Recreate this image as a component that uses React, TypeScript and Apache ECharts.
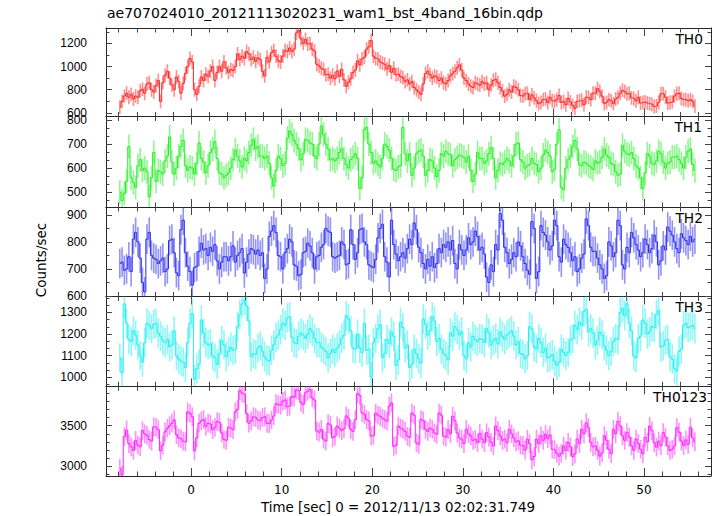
import React, { useEffect, useRef } from "react";
import * as echarts from "echarts";

// Time bins: 0.25 s wide, first bin starts at -8 s
const T_START = -8;
const BIN = 0.25;

const panelNames = ["TH0", "TH1", "TH2", "TH3", "TH0123"];

const th0 = [
  650, 700, 745, 770, 735, 760, 720, 745, 735, 790, 805, 770, 850, 860, 800, 780,
  835, 880, 700, 860, 925, 960, 900, 840, 800, 910, 870, 770, 855, 940, 1000, 1070,
  1040, 800, 760, 830, 910, 880, 935, 915, 960, 1000, 880, 950, 1000, 960, 1040, 990,
  950, 975, 965, 1000, 1110, 1060, 1090, 1070, 1130, 1110, 1060, 1080, 1045, 1075, 1060, 960,
  920, 1080, 1040, 1120, 1140, 1090, 1050, 1040, 1090, 1140, 1130, 1160, 1130, 1150, 1290, 1310,
  1240, 1200, 1235, 1195, 1200, 1150, 1135, 1020, 1005, 985, 975, 930, 935, 900, 925, 895,
  960, 915, 975, 885, 830, 865, 895, 950, 970, 1050, 1015, 1065, 1080, 1150, 1170, 1225,
  1090, 1070, 1065, 1040, 1030, 1020, 980, 1010, 950, 985, 930, 935, 915, 905, 870, 885,
  850, 870, 820, 800, 780, 760, 850, 940, 960, 930, 900, 920, 910, 880, 900, 860,
  850, 880, 920, 940, 960, 990, 1015, 970, 900, 880, 850, 830, 820, 860, 850, 840,
  870, 850, 860, 800, 840, 880, 890, 860, 820, 790, 745, 760, 800, 780, 830, 820,
  800, 750, 745, 765, 770, 715, 755, 730, 705, 680, 690, 715, 720, 690, 735, 705,
  700, 715, 750, 690, 700, 670, 725, 695, 665, 640, 700, 705, 710, 670, 735, 735,
  715, 770, 770, 810, 785, 745, 680, 690, 715, 705, 680, 720, 735, 770, 795, 785,
  765, 770, 730, 725, 705, 735, 685, 690, 695, 685, 680, 675, 655, 660, 690, 765,
  765, 735, 685, 690, 695, 745, 765, 770, 725, 715, 715, 705, 715, 700, 660,
];

const th1 = [
  500, 465, 495, 545, 690, 560, 540, 520, 610, 635, 590, 600, 585, 480, 560, 665,
  545, 590, 585, 575, 630, 650, 730, 625, 575, 600, 650, 690, 715, 610, 590, 605,
  600, 575, 620, 705, 640, 625, 580, 610, 665, 680, 710, 640, 580, 575, 560, 570,
  580, 600, 635, 675, 650, 630, 605, 640, 630, 665, 695, 720, 680, 690, 650, 650,
  640, 650, 620, 560, 525, 590, 650, 640, 610, 620, 725, 755, 740, 715, 700, 680,
  635, 660, 720, 715, 705, 700, 650, 640, 700, 775, 740, 700, 680, 635, 640, 630,
  640, 665, 680, 640, 615, 600, 635, 645, 660, 640, 515, 560, 760, 770, 700, 665,
  620, 630, 615, 605, 640, 700, 690, 675, 640, 595, 590, 605, 610, 770, 660, 630,
  660, 570, 600, 660, 670, 675, 650, 570, 590, 635, 630, 600, 565, 590, 660, 650,
  670, 660, 655, 610, 635, 645, 655, 650, 645, 625, 650, 590, 545, 575, 665, 640,
  640, 620, 630, 660, 685, 640, 560, 590, 620, 615, 625, 640, 630, 610, 650, 700,
  705, 635, 625, 600, 610, 615, 640, 620, 615, 585, 600, 655, 675, 665, 650, 585,
  595, 700, 760, 520, 510, 600, 635, 650, 690, 715, 680, 615, 610, 625, 620, 610,
  605, 595, 630, 620, 625, 645, 680, 655, 645, 620, 615, 585, 570, 575, 695, 670,
  660, 655, 665, 640, 610, 600, 560, 515, 580, 660, 650, 620, 615, 630, 670, 660,
  625, 600, 620, 625, 645, 645, 650, 635, 620, 600, 645, 670, 680, 615, 590,
];

const th2 = [
  720, 725, 695, 700, 745, 690, 810, 835, 800, 740, 650, 615, 810, 835, 750, 740,
  735, 720, 730, 740, 690, 700, 805, 810, 760, 686, 675, 845, 880, 760, 710, 690,
  640, 705, 710, 765, 795, 770, 775, 750, 780, 765, 790, 730, 700, 725, 745, 745,
  730, 745, 785, 725, 750, 760, 775, 685, 725, 755, 775, 770, 755, 770, 750, 760,
  665, 700, 820, 840, 860, 835, 750, 745, 700, 760, 775, 810, 800, 715, 710, 675,
  680, 760, 765, 795, 785, 760, 700, 745, 750, 780, 790, 850, 840, 835, 745, 740,
  745, 750, 800, 790, 715, 720, 845, 790, 735, 760, 845, 850, 800, 790, 715, 710,
  705, 735, 815, 850, 865, 745, 725, 670, 880, 790, 755, 730, 745, 760, 740, 775,
  810, 790, 870, 845, 780, 760, 720, 700, 735, 710, 745, 705, 720, 775, 760, 790,
  780, 800, 770, 805, 720, 700, 790, 770, 750, 770, 815, 790, 800, 840, 820, 770,
  780, 755, 670, 650, 715, 690, 790, 770, 905, 880, 780, 760, 720, 735, 760, 745,
  800, 785, 745, 720, 695, 680, 875, 850, 665, 690, 860, 835, 825, 800, 770, 785,
  880, 860, 745, 725, 810, 790, 780, 760, 730, 745, 690, 700, 740, 755, 885, 860,
  780, 765, 765, 740, 715, 700, 665, 675, 800, 785, 745, 760, 880, 860, 715, 700,
  780, 760, 835, 815, 790, 770, 745, 760, 810, 790, 760, 775, 825, 800, 715, 730,
  785, 770, 855, 840, 825, 800, 775, 760, 830, 815, 805, 790, 820, 800, 810,
];

const th3 = [
  1090, 1020, 1340, 1250, 1175, 1165, 1215, 1195, 1150, 1100, 1070, 1160, 1250, 1240, 1225, 1245,
  1250, 1205, 1190, 1170, 1160, 1175, 1140, 1150, 1215, 1100, 1085, 1075, 1070, 1045, 1160, 1250,
  1295, 990, 1040, 1060, 1265, 1205, 1160, 1150, 1155, 1100, 1090, 1060, 1110, 1170, 1150, 1095,
  1120, 1140, 1125, 1130, 1235, 1290, 1340, 1355, 1330, 1260, 1095, 1110, 1105, 1135, 1145, 1120,
  1095, 1080, 1075, 1125, 1150, 1185, 1195, 1220, 1250, 1240, 1275, 1280, 1185, 1160, 1155, 1190,
  1205, 1195, 1180, 1200, 1225, 1210, 1180, 1160, 1160, 1140, 1130, 1120, 1090, 1110, 1130, 1115,
  1135, 1150, 1180, 1195, 1285, 1270, 1215, 1135, 1130, 1200, 1135, 1115, 1250, 1125, 1130, 1000,
  1160, 1180, 1225, 1245, 1090, 1110, 1175, 1155, 1210, 1190, 1055, 1080, 1255, 1230, 1135, 1150,
  1045, 1060, 1130, 1110, 1085, 1065, 1270, 1245, 1195, 1215, 1280, 1260, 1165, 1180, 1130, 1110,
  1100, 1080, 1205, 1190, 1235, 1220, 1195, 1210, 1100, 1085, 1160, 1140, 1190, 1175, 1165, 1180,
  1175, 1160, 1225, 1205, 1150, 1170, 1180, 1155, 1210, 1190, 1175, 1195, 1205, 1215, 1190, 1150,
  1165, 1110, 1105, 1085, 1100, 1235, 1225, 1140, 1130, 1180, 1160, 1115, 1135, 1090, 1095, 1105,
  1075, 1055, 1070, 1130, 1115, 1100, 1115, 1170, 1180, 1240, 1220, 1255, 1240, 1305, 1315, 1210,
  1225, 1205, 1150, 1170, 1210, 1195, 1145, 1125, 1100, 1120, 1165, 1180, 1175, 1300, 1320, 1285,
  1340, 1250, 1215, 1100, 1090, 1180, 1190, 1265, 1250, 1200, 1210, 1235, 1230, 1290, 1310, 1140,
  1145, 1170, 1175, 1095, 1085, 1040, 1030, 1120, 1130, 1240, 1250, 1230, 1235, 1240, 1225,
];

const th0123 = [
  2975, 2895, 3365, 3445, 3280, 3240, 3195, 3320, 3260, 3240, 3440, 3400, 3380, 3330, 3310, 3485,
  3480, 3450, 3190, 3260, 3425, 3470, 3500, 3530, 3570, 3390, 3350, 3340, 3310, 3300, 3670, 3650,
  3610, 3190, 3350, 3530, 3560, 3575, 3490, 3530, 3520, 3450, 3480, 3550, 3540, 3410, 3330, 3320,
  3480, 3470, 3450, 3670, 3700, 3930, 3900, 3890, 3650, 3530, 3560, 3610, 3600, 3570, 3560, 3600,
  3610, 3530, 3525, 3570, 3620, 3770, 3760, 3750, 3800, 3815, 3730, 3740, 3860, 3850, 3940, 3930,
  3785, 3760, 3905, 3925, 3945, 3840, 3815, 3435, 3420, 3455, 3335, 3310, 3525, 3510, 3350, 3370,
  3495, 3470, 3440, 3460, 3620, 3590, 3455, 3430, 3575, 3895, 3870, 3660, 3640, 3575, 3560, 3370,
  3380, 3655, 3630, 3615, 3590, 3575, 3555, 3740, 3780, 3245, 3260, 3495, 3470, 3455, 3430, 3370,
  3355, 3655, 3630, 3290, 3270, 3575, 3560, 3455, 3430, 3470, 3455, 3410, 3395, 3655, 3630, 3370,
  3360, 3450, 3400, 3615, 3560, 3410, 3350, 3335, 3280, 3455, 3400, 3375, 3320, 3335, 3290, 3405,
  3335, 3290, 3415, 3360, 3295, 3250, 3495, 3440, 3375, 3320, 3335, 3290, 3455, 3400, 3350, 3300,
  3315, 3260, 3255, 3200, 3335, 3280, 3080, 3120, 3335, 3280, 3375, 3320, 3395, 3340, 3385, 3210,
  3205, 3160, 3125, 3160, 3250, 3195, 3295, 3240, 3120, 3150, 3335, 3280, 3455, 3400, 3535, 3475,
  3295, 3240, 3250, 3195, 3125, 3165, 3375, 3320, 3210, 3155, 3455, 3400, 3555, 3500, 3375, 3320,
  3415, 3360, 3250, 3195, 3335, 3280, 3210, 3155, 3355, 3300, 3495, 3440, 3290, 3235, 3310, 3255,
  3415, 3360, 3250, 3195, 3210, 3250, 3475, 3420, 3310, 3255, 3325, 3270, 3480, 3350, 3300,
];

const panelData = [th0, th1, th2, th3, th0123];
const errHalf = [60, 50, 55, 68, 115];
const lineColors = ["#ff2020", "#20f020", "#2828f0", "#20f0f0", "#ff20ff"];

const yMins = [569, 438, 598, 958, 2881];
const yMaxs = [1333, 815, 929, 1374, 3984];
const yMajor = [
  [600, 800, 1000, 1200],
  [500, 600, 700, 800],
  [600, 700, 800, 900],
  [1000, 1100, 1200, 1300],
  [3000, 3500],
];
const yMinor = [
  [700, 900, 1100, 1300],
  [466.67, 533.33, 566.67, 633.33, 666.67, 733.33, 766.67],
  [650, 750, 850],
  [966.67, 1033.33, 1066.67, 1133.33, 1166.67, 1233.33, 1266.67, 1333.33, 1366.67],
  [2900, 3100, 3200, 3300, 3400, 3600, 3700, 3800, 3900],
];

const xMajor = [0, 10, 20, 30, 40, 50];
const xMinor = [-8, -6, -4, -2, 2, 4, 6, 8, 12, 14, 16, 18, 22, 24, 26, 28, 32, 34, 36, 38, 42, 44, 46, 48, 52, 54, 56];
const X_MIN = -9.4;
const X_MAX = 57.4;

const titleText = "ae707024010_20121113020231_wam1_bst_4band_16bin.qdp";
const xTitle = "Time [sec] 0 = 2012/11/13 02:02:31.749";
const yTitle = "Counts/sec";

// layout (px)
const PLOT_LEFT = 106;
const PLOT_RIGHT = 711;
const panelTops = [28, 116.5, 207, 296.5, 386.3];
const panelBottoms = [116.5, 207, 296.5, 386.3, 476];

const FRAME = "#262626";
const TICK = "#444";

export default function App() {
  const ref = useRef<HTMLDivElement>(null);
  useEffect(() => {
    document.body.style.margin = "0";
    const chart = echarts.init(ref.current!, undefined, { renderer: "svg" });

    const grids: any[] = [];
    const xAxes: any[] = [];
    const yAxes: any[] = [];
    const series: any[] = [];
    const plain = (v: number) => String(v);

    for (let i = 0; i < 5; i++) {
      grids.push({
        left: PLOT_LEFT,
        width: PLOT_RIGHT - PLOT_LEFT,
        top: panelTops[i],
        height: panelBottoms[i] - panelTops[i],
      });
      const isLast = i === 4;
      const xBase = {
        type: "value",
        gridIndex: i,
        min: X_MIN,
        max: X_MAX,
        splitLine: { show: false },
      };
      xAxes.push({
        ...xBase,
        position: "bottom",
        axisLine: { show: true, onZero: false, lineStyle: { color: FRAME, width: 1 } },
        axisTick: { show: true, inside: true, length: 8, customValues: xMajor, lineStyle: { color: TICK } },
        axisLabel: {
          show: isLast,
          customValues: xMajor,
          formatter: plain,
          fontFamily: "DejaVu Sans",
          fontSize: 12,
          color: "#000",
          margin: 8,
        },
      });
      xAxes.push({
        ...xBase,
        position: "bottom",
        axisLine: { show: false, onZero: false },
        axisTick: { show: true, inside: true, length: 4.5, customValues: xMinor, lineStyle: { color: TICK } },
        axisLabel: { show: false },
      });
      xAxes.push({
        ...xBase,
        position: "top",
        axisLine: { show: true, onZero: false, lineStyle: { color: FRAME, width: 1 } },
        axisTick: { show: true, inside: true, length: 8, customValues: xMajor, lineStyle: { color: TICK } },
        axisLabel: { show: false },
      });
      xAxes.push({
        ...xBase,
        position: "top",
        axisLine: { show: false, onZero: false },
        axisTick: { show: true, inside: true, length: 4.5, customValues: xMinor, lineStyle: { color: TICK } },
        axisLabel: { show: false },
      });

      const yBase = {
        type: "value",
        gridIndex: i,
        min: yMins[i],
        max: yMaxs[i],
        splitLine: { show: false },
      };
      yAxes.push({
        ...yBase,
        position: "left",
        axisLine: { show: true, onZero: false, lineStyle: { color: FRAME, width: 1 } },
        axisTick: { show: true, inside: true, length: 6, customValues: yMajor[i], lineStyle: { color: TICK } },
        axisLabel: {
          show: true,
          customValues: yMajor[i],
          formatter: plain,
          fontFamily: "Liberation Sans",
          fontSize: 12,
          color: "#000",
          margin: 19,
        },
      });
      yAxes.push({
        ...yBase,
        position: "left",
        axisLine: { show: false, onZero: false },
        axisTick: { show: true, inside: true, length: 3.5, customValues: yMinor[i], lineStyle: { color: TICK } },
        axisLabel: { show: false },
      });
      yAxes.push({
        ...yBase,
        position: "right",
        axisLine: { show: true, onZero: false, lineStyle: { color: FRAME, width: 1 } },
        axisTick: { show: true, inside: true, length: 6, customValues: yMajor[i], lineStyle: { color: TICK } },
        axisLabel: { show: false },
      });
      yAxes.push({
        ...yBase,
        position: "right",
        axisLine: { show: false, onZero: false },
        axisTick: { show: true, inside: true, length: 3.5, customValues: yMinor[i], lineStyle: { color: TICK } },
        axisLabel: { show: false },
      });

      const pts = panelData[i].map((v, j) => [T_START + BIN * j + BIN / 2, v]);
      const e = errHalf[i];
      const col = lineColors[i];
      series.push({
        type: "custom",
        xAxisIndex: 4 * i,
        yAxisIndex: 4 * i,
        clip: true,
        z: 1,
        data: pts,
        renderItem: (_p: any, api: any) => {
          const x = api.value(0);
          const y = api.value(1);
          const a = api.coord([x, y - e]);
          const b = api.coord([x, y + e]);
          return {
            type: "line",
            shape: { x1: a[0], y1: a[1], x2: b[0], y2: b[1] },
            style: { stroke: col, lineWidth: 1.6, opacity: 0.5 },
          };
        },
      });
      series.push({
        type: "line",
        xAxisIndex: 4 * i,
        yAxisIndex: 4 * i,
        step: "middle",
        symbol: "none",
        z: 2,
        data: pts,
        lineStyle: { color: col, width: 1 },
      });
    }

    const graphics: any[] = [
      {
        type: "text",
        left: PLOT_LEFT + 1,
        top: 6,
        style: { text: titleText, font: "14px 'DejaVu Sans'", fill: "#000" },
      },
      {
        type: "text",
        x: 398,
        y: 507,
        style: {
          text: xTitle,
          font: "13.4px 'DejaVu Sans'",
          fill: "#000",
          align: "center",
          verticalAlign: "middle",
        },
      },
      {
        type: "text",
        x: 41,
        y: 260,
        rotation: Math.PI / 2,
        style: {
          text: yTitle,
          font: "13.5px 'DejaVu Sans'",
          fill: "#000",
          align: "center",
          verticalAlign: "middle",
        },
      },
    ];
    const labelRight = [703, 702, 703, 703, 707];
    for (let i = 0; i < 5; i++) {
      graphics.push({
        type: "text",
        x: labelRight[i],
        y: panelTops[i] + 10.5,
        z: 10,
        style: {
          text: panelNames[i],
          font: "13.8px 'DejaVu Sans'",
          fill: "#000",
          align: "right",
          verticalAlign: "middle",
        },
      });
    }

    chart.setOption({
      animation: false,
      backgroundColor: "#fff",
      grid: grids,
      xAxis: xAxes,
      yAxis: yAxes,
      series,
      graphic: graphics,
    });
    return () => chart.dispose();
  }, []);
  return <div ref={ref} style={{ width: 717, height: 516 }} />;
}
